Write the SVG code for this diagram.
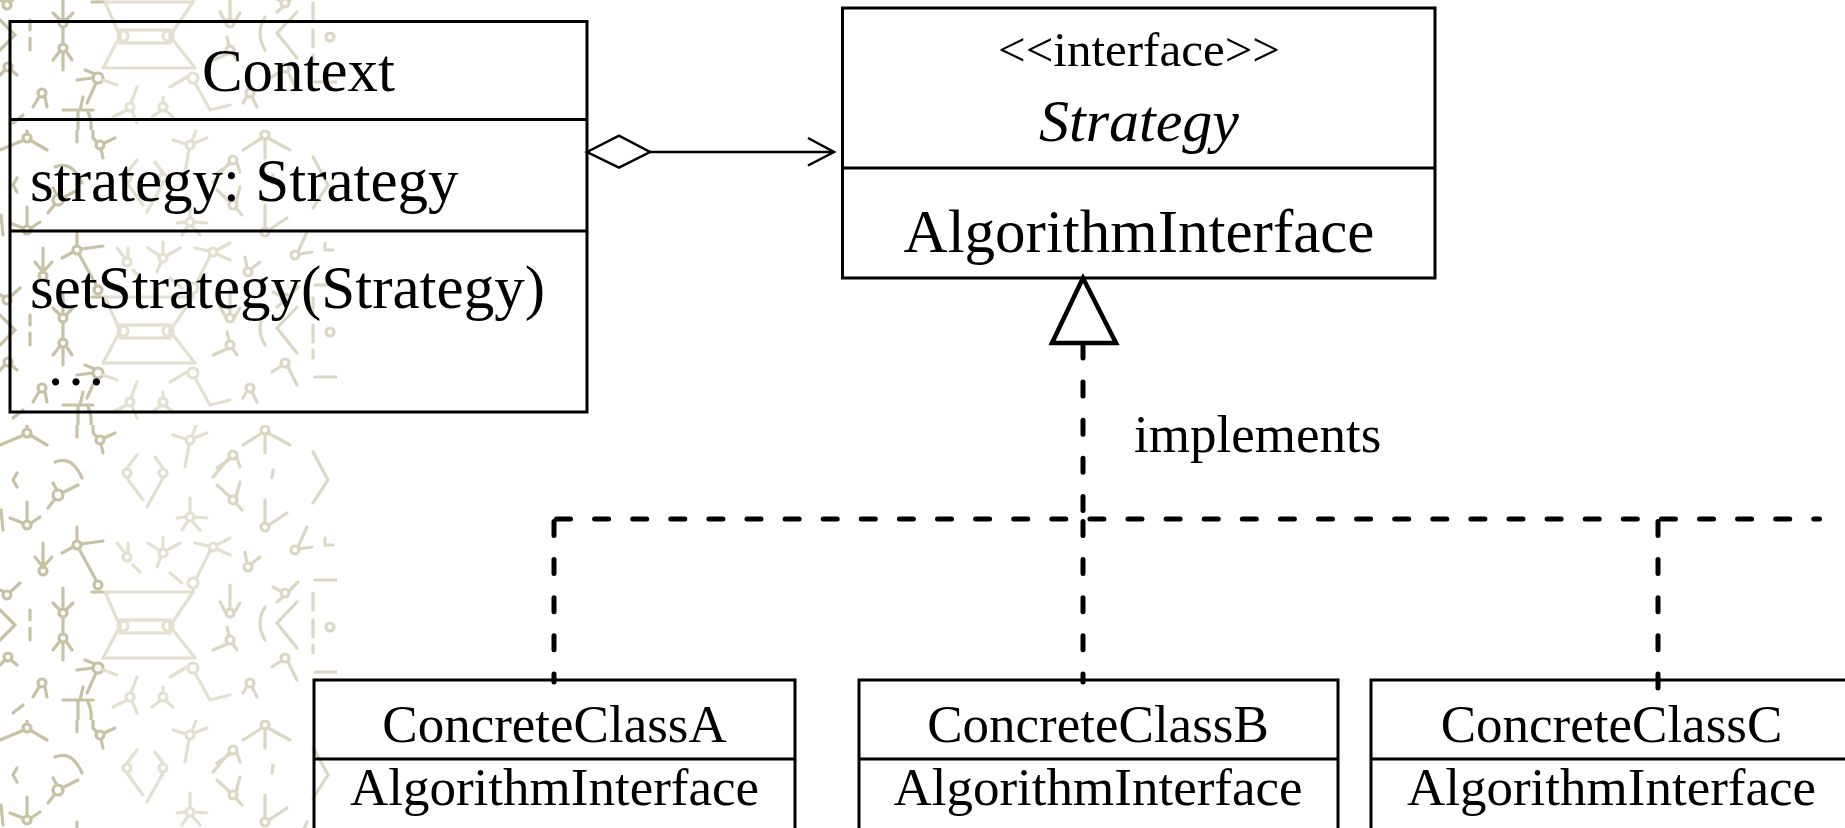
<svg xmlns="http://www.w3.org/2000/svg" width="1845" height="828" viewBox="0 0 1845 828">
  <style>
    .box { fill: none; stroke: #000; stroke-width: 3; }
    .sep { stroke: #000; stroke-width: 3; }
    .t { font-family: "Liberation Serif", "Times New Roman", serif; fill: #000; }
    .mid { text-anchor: middle; }
    .dash { fill: none; stroke: #000; stroke-width: 5; stroke-linecap: round; stroke-dasharray: 14 24.1; }
    .line { fill: none; stroke: #000; stroke-width: 2.5; }
    .pa { fill: none; stroke: #c8c2a5; stroke-width: 3.2; stroke-linecap: round; }
    .pb { fill: none; stroke: #e4e0cf; stroke-width: 3.2; stroke-linecap: round; }
    .pc { fill: none; stroke: #dcd7c3; stroke-width: 3.2; stroke-linecap: round; }
  </style>
  <defs>
    <!-- wallpaper tile: stick figures around a ladder motif -->
    <pattern id="texture" x="0" y="425" width="337" height="295" patternUnits="userSpaceOnUse">
      <g class="pa">
        <circle cx="27" cy="8" r="4"/><path d="M27 4V0M24 10L0 20M30 10L47 20"/>
        <path d="M77 -5V12M93 -5V8L97 12"/><circle cx="100" cy="15" r="4"/><path d="M104 13L115 8M101 19L103 28"/>
        <path d="M55 37Q72 30 82 53"/>
        <path d="M17 48L13 55L17 62"/>
        <circle cx="58" cy="70" r="5"/><path d="M62 68L78 60M55 74L48 83M57 65L53 58"/>
        <circle cx="27" cy="100" r="4"/><path d="M27 95V77M23 98L10 93M31 98L40 92"/>
        <path d="M1 85L3 105"/>
        <path d="M43 118V142"/><circle cx="43" cy="146" r="4"/><path d="M35 132L43 142L52 132"/>
        <circle cx="77" cy="120" r="4"/><path d="M77 116V102M73 122L62 128M81 119L103 116M79 124L96 155"/>
        <circle cx="98" cy="160" r="4"/><path d="M92 167H104"/>
        <circle cx="7" cy="170" r="4"/><path d="M10 167L20 158M4 167L0 165"/>
        <path d="M0 185L15 200L0 215"/>
        <path d="M30 185V195M30 203V215"/>
        <path d="M63 163V184M63 192V209M63 217V235"/><circle cx="63" cy="188" r="4"/><circle cx="63" cy="213" r="4"/>
        <path d="M53 178L60 185M73 178L66 185M53 225L60 216M72 225L66 216"/>
        <circle cx="8" cy="232" r="4"/><path d="M5 235L0 240M11 235L17 240"/>
        <circle cx="98" cy="243" r="5"/><path d="M93 243L77 245M95 239L85 235M96 248L87 268"/>
        <circle cx="42" cy="258" r="4"/><path d="M39 262L33 272M45 262L47 272"/>
        <path d="M63 275H93M78 275V295M88 277Q92 285 91 295M83 262L80 275"/>
        <path d="M13 288L23 280"/>
      </g>
      <g class="pb">
        <path d="M105 167H193M103 233H195M105 167L120 201L103 233M193 167L170 201L195 233"/>
        <rect x="120" y="195" width="50" height="13"/>
        <circle cx="123" cy="201" r="5"/><circle cx="168" cy="201" r="5"/>
        <circle cx="193" cy="158" r="5"/><path d="M193 163V167M196 154L210 126"/>
        <circle cx="213" cy="122" r="4"/><path d="M209 121L195 118M217 120L230 113M217 124L230 130"/>
        <circle cx="193" cy="243" r="5"/><path d="M195 248L210 275L230 270M187 242L170 252M103 245L117 250"/>
        <circle cx="127" cy="48" r="4"/><circle cx="163" cy="48" r="4"/>
        <path d="M127 53L143 75M163 53L147 82M127 43L137 30M163 43L155 32"/>
        <circle cx="190" cy="15" r="4"/><path d="M186 14L173 10M194 13L207 8M189 19L185 42M192 11L197 -2"/>
        <circle cx="190" cy="92" r="4"/><path d="M186 92L177 93M194 92L207 93M190 88V73M188 96L182 105M192 96L200 105"/>
        <circle cx="163" cy="128" r="4"/><path d="M163 124V112M160 126L148 118M166 126L180 118M161 132L157 142"/>
        <circle cx="127" cy="132" r="4"/><path d="M125 128L117 118M128 128V118"/>
        <path d="M133 140L140 147M170 148L182 158"/>
        <circle cx="163" cy="272" r="4"/><path d="M160 276L152 282M166 276L173 282M163 268V262"/>
        <circle cx="130" cy="272" r="4"/><path d="M127 275L113 282M132 276L137 288M131 268L137 252"/>
      </g>
      <g class="pc">
        <circle cx="265" cy="5" r="4"/><path d="M262 8L243 20M268 8L290 20M265 9V28"/>
        <circle cx="233" cy="30" r="4"/><path d="M230 34L217 43M229 33L213 52M237 33L240 42"/>
        <circle cx="233" cy="75" r="4"/><path d="M230 72L217 60M236 72L240 57M236 78L242 85"/>
        <circle cx="265" cy="102" r="4"/><path d="M265 98V75M269 100L287 88"/>
        <path d="M273 45L272 53"/>
        <path d="M313 27L328 55L313 78"/>
        <circle cx="295" cy="125" r="4"/><path d="M298 122L307 102M299 124L312 122"/>
        <path d="M325 113V120L333 120"/>
        <path d="M315 155H337"/>
        <circle cx="248" cy="142" r="4"/><path d="M251 139L260 132M247 138L245 127"/>
        <circle cx="285" cy="168" r="4"/><path d="M281 166L273 162M289 166L298 157M283 172L277 177"/>
        <circle cx="230" cy="188" r="4"/><path d="M230 184V160M234 188L240 178M226 188L220 177"/>
        <path d="M265 182Q255 198 265 215"/>
        <path d="M297 177L277 198L297 223"/>
        <path d="M313 168V185M313 195V212M313 220V228"/><circle cx="330" cy="202" r="4"/>
        <circle cx="230" cy="215" r="4"/><path d="M227 219L213 225M233 219L237 225M229 211L227 202"/>
        <circle cx="285" cy="233" r="4"/><path d="M281 236L272 242M288 237L297 255"/>
        <path d="M315 247H337"/>
        <circle cx="250" cy="258" r="4"/><path d="M252 262L257 272M247 261L243 268"/>
      </g>
    </pattern>
  </defs>

  <rect width="1845" height="828" fill="#fff"/>
  <rect x="0" y="0" width="337" height="828" fill="url(#texture)"/>

  <!-- connectors -->
  <g id="connectors">
    <!-- aggregation: Context holds a Strategy -->
    <polygon points="587,152 619,135.7 650,152 619,167.5" fill="#fff" stroke="#000" stroke-width="2.5"/>
    <path class="line" d="M650 152H834"/>
    <path class="line" d="M808 138L834 152L808 165.5"/>
    <!-- realization -->
    <path class="dash" d="M1083 344V519"/>
    <path class="dash" d="M556.5 519H1819.5"/>
    <path class="dash" d="M554 521.5V682"/>
    <path class="dash" d="M1083 521.5V682"/>
    <path class="dash" d="M1658 521.5V690"/>
    <path d="M1083 278L1052 343H1116Z" fill="#fff" stroke="#000" stroke-width="4.5"/>
    <text class="t" x="1134" y="452" font-size="53">implements</text>
  </g>

  <g id="context">
    <rect class="box" x="10" y="21.5" width="577" height="390.5"/>
    <line class="sep" x1="10" y1="119.5" x2="587" y2="119.5"/>
    <line class="sep" x1="10" y1="231" x2="587" y2="231"/>
    <text class="t mid" x="298.5" y="91" font-size="61">Context</text>
    <text class="t" x="30" y="201" font-size="61">strategy: Strategy</text>
    <text class="t" x="30" y="308" font-size="61">setStrategy(Strategy)</text>
    <text class="t" x="45.5" y="385" font-size="61">…</text>
  </g>

  <g id="strategy">
    <rect class="box" x="842.5" y="8" width="592.5" height="270"/>
    <line class="sep" x1="842.5" y1="168" x2="1435" y2="168"/>
    <text class="t mid" x="1139" y="66" font-size="49">&lt;&lt;interface&gt;&gt;</text>
    <text class="t mid" x="1139" y="141" font-size="60" font-style="italic">Strategy</text>
    <text class="t mid" x="1139" y="252" font-size="61">AlgorithmInterface</text>
  </g>

  <g id="concrete-a">
    <rect class="box" x="314" y="680" width="481" height="170"/>
    <line class="sep" x1="314" y1="759" x2="795" y2="759"/>
    <text class="t mid" x="554.5" y="742" font-size="53">ConcreteClassA</text>
    <text class="t mid" x="554.5" y="805" font-size="53">AlgorithmInterface</text>
  </g>

  <g id="concrete-b">
    <rect class="box" x="859" y="680" width="479" height="170"/>
    <line class="sep" x1="859" y1="759" x2="1338" y2="759"/>
    <text class="t mid" x="1098" y="742" font-size="53">ConcreteClassB</text>
    <text class="t mid" x="1098" y="805" font-size="53">AlgorithmInterface</text>
  </g>

  <g id="concrete-c">
    <rect class="box" x="1371" y="680" width="481" height="170"/>
    <line class="sep" x1="1371" y1="759" x2="1852" y2="759"/>
    <text class="t mid" x="1611.5" y="742" font-size="53">ConcreteClassC</text>
    <text class="t mid" x="1611.5" y="805" font-size="53">AlgorithmInterface</text>
  </g>
</svg>
